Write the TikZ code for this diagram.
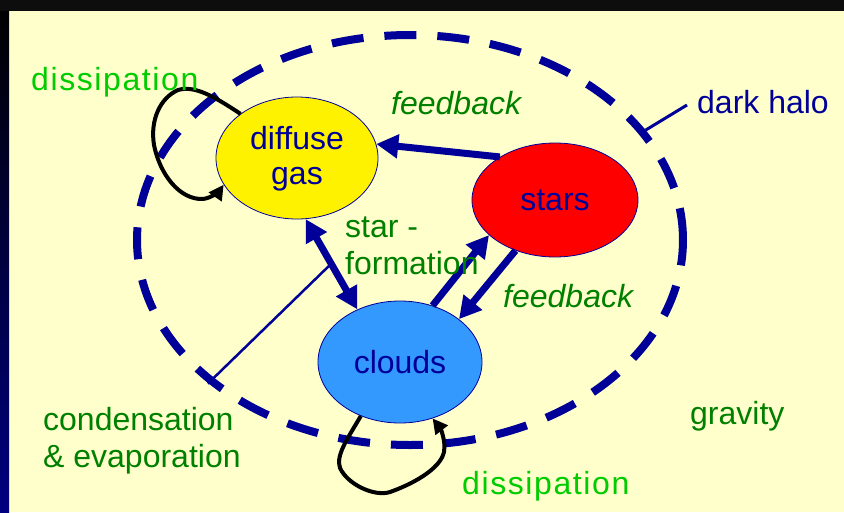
\documentclass[tikz,border=0pt]{standalone}
\usepackage{fontspec}
\setmainfont{Liberation Sans}
\newfontfamily\spacedsans[LetterSpace=5]{Liberation Sans}
\usetikzlibrary{shapes.geometric,arrows.meta}
\definecolor{panelyellow}{HTML}{FFFFCC}
\definecolor{halonavy}{HTML}{000099}
\definecolor{edgenavy}{HTML}{000080}
\definecolor{notegreen}{HTML}{008000}
\definecolor{lightgreen}{HTML}{00CC00}
\definecolor{cloudblue}{HTML}{3399FF}
\tikzset{
  phase/.style={ellipse, draw=halonavy, line width=0.8pt, minimum width=164pt, minimum height=120pt,
    inner sep=0pt, text=halonavy, align=center, font=\fontsize{32}{35}\selectfont},
  note/.style={inner sep=0pt, text=notegreen, font=\fontsize{32}{37}\selectfont},
  dissnote/.style={inner sep=0pt, text=lightgreen, font=\spacedsans\fontsize{32}{37}\selectfont},
  flowtip/.tip={Triangle[length=22pt,width=23pt]},
  looptip/.tip={Triangle[length=15pt,width=15pt]},
  flow/.style={halonavy, line width=7pt, -flowtip},
  selfloop/.style={black, line width=4pt, -looptip},
}
\begin{document}
\begin{tikzpicture}[x=1pt,y=-1pt]
\useasboundingbox (0,0) rectangle (844,512);
\fill[panelyellow] (0,0) rectangle (844,512);
\fill[black!95] (0,0) rectangle (844,11);
\shade[top color=black, bottom color=edgenavy] (0,11) rectangle (9,512);

\node (halo) [ellipse, draw=halonavy, line width=8pt, dash pattern=on 32pt off 21pt,
  minimum width=546pt, minimum height=410pt, inner sep=0pt] at (410,240) {};

\coordinate (sftip) at (333,262);
\node (condnote) [note, anchor=base west, align=left] at (43,467) {condensation\\\& evaporation};
\draw[halonavy, line width=2.5pt] ([xshift=-33pt,yshift=23pt]condnote.north east) -- (sftip);

\node (gas) [phase, fill=yellow, minimum width=162pt, minimum height=122pt] at (297,158) {\strut diffuse\\gas};
\node (stars) [phase, fill=red, minimum width=166pt, minimum height=114pt] at (555,200) {stars};
\node (clouds) [phase, fill=cloudblue, minimum height=122pt] at (400,362) {clouds};

\draw[flow] (stars.142) -- (gas.10);
\draw[flow, flowtip-flowtip] (gas.-82) -- (clouds.129);
\draw[flow] (clouds.60) -- (stars.208);
\draw[flow] (stars.232) -- (clouds.36);

\draw[selfloop] (gas.142) .. controls (215,97) and (195,85) .. (178,90)
  .. controls (160,98) and (150,120) .. (154,145)
  .. controls (160,175) and (180,200) .. (203,199)
  .. controls (212,198) and (220,190) .. (gas.200);
\draw[selfloop] (clouds.234) .. controls (350,435) and (335,455) .. (340,468)
  .. controls (348,485) and (375,497) .. (390,492)
  .. controls (410,485) and (440,470) .. (444,452)
  .. controls (446,440) and (440,428) .. (clouds.300);

\node (dissgas) [dissnote, anchor=base west] at (31,90) {dissipation};
\node (dissclouds) [dissnote, anchor=base west] at (462,494) {dissipation};
\node (fbgas) [note, anchor=base west] at (391,114) {\itshape feedback};
\node (fbclouds) [note, anchor=base west] at (503,307) {\itshape feedback};
\node (sfnote) [note, anchor=base west, align=left] at (345,274) {star -\\formation};
\node (gravnote) [note, anchor=base west] at (690,424) {gravity};
\node (halonote) [note, text=halonavy, anchor=base west] at (697,113) {dark halo};
\draw[halonavy, line width=3pt] (halo.25) -- ([xshift=-10pt,yshift=8pt]halonote.base west);
\end{tikzpicture}
\end{document}
